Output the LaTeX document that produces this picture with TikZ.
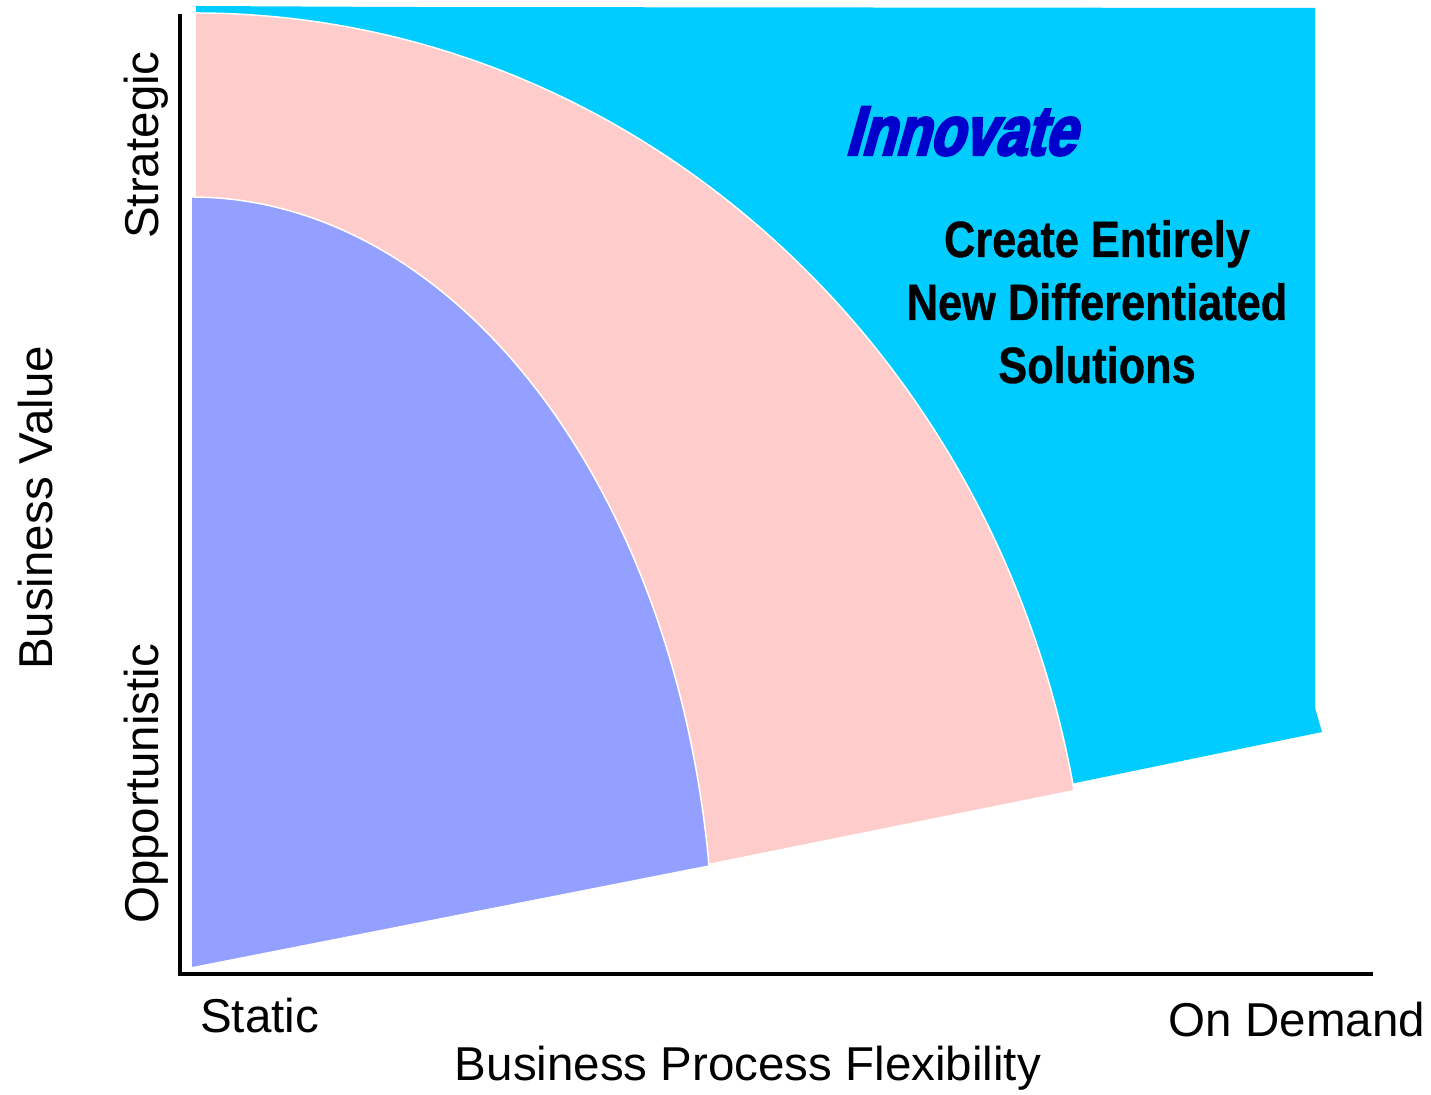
\documentclass[tikz,border=0pt]{standalone}
\usepackage{fontspec}
\setmainfont{Liberation Sans}
\newfontfamily\condfont{Liberation Sans}[FakeStretch=0.85, BoldFeatures={FakeBold=0.6}]
\newfontfamily\innovfont{Liberation Sans}[FakeStretch=0.80, BoldFeatures={FakeBold=3.5, FakeSlant=0.28}]
\definecolor{cyanbg}{RGB}{0,204,255}
\definecolor{pinkbg}{RGB}{255,204,204}
\definecolor{bluebg}{RGB}{148,160,255}
\definecolor{innovblue}{RGB}{0,0,204}
\tikzset{
  lbl/.style={font=\fontsize{47.5}{57}\selectfont, inner sep=0pt, text=black},
  boldtxt/.style={font=\condfont\bfseries\fontsize{51}{63}\selectfont, align=center, inner sep=0pt, text=black},
  innovtxt/.style={font=\innovfont\bfseries\fontsize{70}{80}\selectfont, inner sep=0pt, text=innovblue},
  wedge/.style={draw=white, line width=1.5},
  axisline/.style={draw=black, line width=4}
}
\begin{document}
\begin{tikzpicture}[x=1pt,y=1pt]
\useasboundingbox (0,0) rectangle (1431,1094);
\fill[white] (0,0) rectangle (1431,1094);
% cyan region
\fill[cyanbg] (196,1088) -- (400,1087) -- (1315,1086) -- (1315,386) -- (1322,362) -- (1075,311) -- (196,126) -- cycle;
% pink wedge
\filldraw[wedge, fill=pinkbg] (195,126) -- (195,1081) arc[start angle=90, end angle=10.7, x radius=894.7, y radius=955] -- cycle;
% blue wedge
\filldraw[wedge, fill=bluebg] (191,126) -- (191,897) arc[start angle=90, end angle=7.6, x radius=522.7, y radius=771] -- cycle;
% axes
\coordinate (ytop) at (180,1080);
\coordinate (orig) at (180,120);
\coordinate (xend) at (1373,120);
\draw[axisline] (ytop) -- (orig) -- (xend);
% labels
\node[lbl, rotate=90, anchor=base] (strat) at (158,949) {Strategic};
\node[lbl, rotate=90, anchor=base] (oppo) at (158,310) {Opportunistic};
\node[lbl, rotate=90, anchor=base] (bval) at (52,586) {Business Value};
\node[lbl, anchor=base west] (static) at (200,61) {Static};
\node[lbl, anchor=base] (ondemand) at (1297,57) {On Demand};
\node[lbl, anchor=base] (bpf) at (748,13) {Business Process Flexibility};
\node[innovtxt, anchor=base] (innov) at (960,939) {Innovate};
\node[boldtxt, anchor=base] (create) at (1097,711) {Create Entirely\\New Differentiated\\Solutions};
\end{tikzpicture}
\end{document}
